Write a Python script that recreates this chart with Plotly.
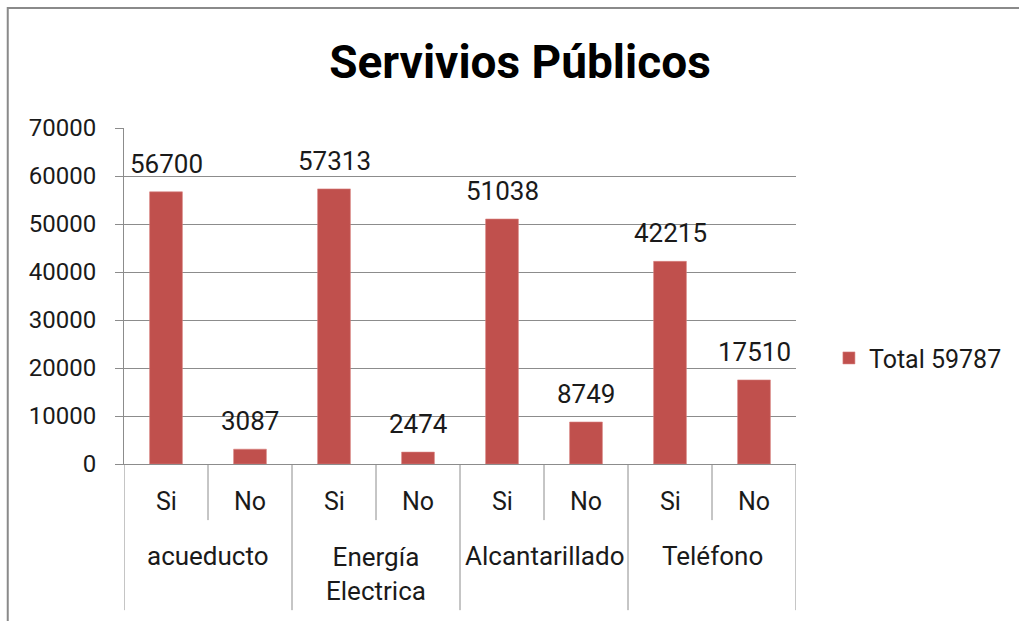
import plotly.graph_objects as go

# Survey results: households with / without each public service
services = ["acueducto", "Energía<br>Electrica", "Alcantarillado", "Teléfono"]
answers = ["Si", "No"]
si_values = [56700, 57313, 51038, 42215]
no_values = [3087, 2474, 8749, 17510]
total_households = 59787
y_ticks = [0, 10000, 20000, 30000, 40000, 50000, 60000, 70000]

BAR_COLOR = "#C0504D"
GRID_COLOR = "#8C8C8C"
FONT = "Roboto, 'Liberation Sans', sans-serif"
TEXT_COLOR = "#1a1a1a"

# one category per (service, answer) pair, in display order
keys, values, sub_labels = [], [], []
for svc, si, no in zip(services, si_values, no_values):
    for ans, val in zip(answers, (si, no)):
        keys.append(f"{svc}|{ans}")
        values.append(val)
        sub_labels.append(ans)

fig = go.Figure()
fig.add_trace(go.Bar(
    x=keys, y=values,
    name=f"Total {total_households}",
    marker=dict(color=BAR_COLOR, line=dict(color="#D9827F", width=0.6)),
))

annotations = []
# value labels above the bars
for k, v in zip(keys, values):
    annotations.append(dict(
        x=k, y=v, xref="x", yref="y", text=str(v), showarrow=False,
        yanchor="middle", yshift=28,
        font=dict(family=FONT, size=26, color=TEXT_COLOR),
    ))

# two-level category labels under the axis
for k, lab in zip(keys, sub_labels):
    annotations.append(dict(
        x=k, y=-0.113, xref="x", yref="paper", text=lab, showarrow=False,
        yanchor="middle", font=dict(family=FONT, size=25, color=TEXT_COLOR),
    ))
for i, svc in enumerate(services):
    two_lines = "<br>" in svc
    annotations.append(dict(
        x=2 * i + 0.5, y=-0.327 if two_lines else -0.274, xref="x", yref="paper",
        text=svc, showarrow=False, yanchor="middle",
        font=dict(family=FONT, size=26, color=TEXT_COLOR),
    ))

shapes = []
# divider lines of the category axis: short between answers, long between services
n = len(keys)
for b in range(n + 1):
    pos = b - 0.5
    long_line = b % 2 == 0
    shapes.append(dict(
        type="line", xref="x", yref="paper", x0=pos, x1=pos,
        y0=0, y1=-0.435 if long_line else -0.167,
        line=dict(color=GRID_COLOR, width=1),
    ))
# outer chart frame
shapes.append(dict(
    type="rect", xref="paper", yref="paper",
    x0=-0.173, x1=1.6, y0=-1.0, y1=1.357,
    line=dict(color="#8A8A8A", width=2), fillcolor="rgba(0,0,0,0)", layer="below",
))

fig.update_layout(
    width=1019, height=621,
    margin=dict(l=124, r=221, t=128, b=157),
    paper_bgcolor="white", plot_bgcolor="white",
    bargap=0.61,
    title=dict(
        text="<b>Servivios Públicos</b>", x=0.5103, xanchor="center",
        y=1 - 62 / 621, yanchor="middle", yref="container",
        font=dict(family=FONT, size=46, color="#000000"),
    ),
    showlegend=True,
    legend=dict(
        x=1.049, xanchor="left", y=0.315, yanchor="middle",
        font=dict(family=FONT, size=25, color=TEXT_COLOR),
        bgcolor="rgba(0,0,0,0)",
    ),
    xaxis=dict(
        type="category", showticklabels=False, ticks="", showgrid=False,
        showline=True, linecolor=GRID_COLOR, linewidth=1,
        range=[-0.5, n - 0.5], zeroline=False,
    ),
    yaxis=dict(
        range=[0, 70000], tickvals=y_ticks, ticktext=[str(t) for t in y_ticks],
        ticks="outside", ticklen=8, tickcolor=GRID_COLOR, tickwidth=1,
        showgrid=True, gridcolor=GRID_COLOR, gridwidth=1,
        showline=True, linecolor=GRID_COLOR, linewidth=1, zeroline=False,
        ticklabelstandoff=14,
        tickfont=dict(family=FONT, size=24, color=TEXT_COLOR),
    ),
    annotations=annotations,
    shapes=shapes,
)

fig.write_html("out.html")
